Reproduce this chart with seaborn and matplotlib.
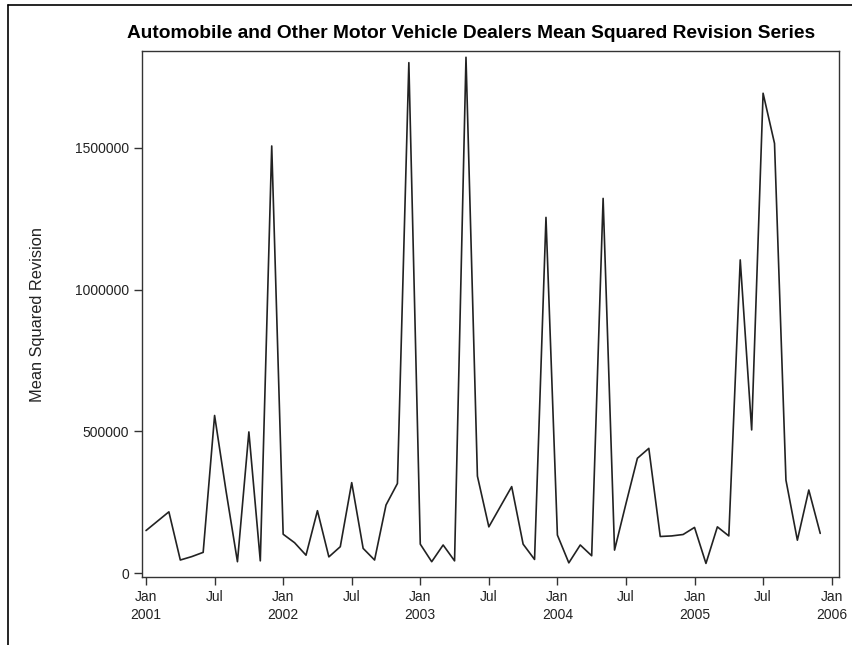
import matplotlib
matplotlib.use("Agg")
import matplotlib.pyplot as plt
from matplotlib.lines import Line2D
import seaborn as sns
import pandas as pd
import numpy as np

# Monthly series, Jan 2001 .. Dec 2005
month_index = list(range(60))
msr_values = [
    150000, 183000, 216000, 46000, 58000, 73000, 556000, 290000, 40000, 498000, 43000, 1507000,
    137000, 107000, 63000, 220000, 57000, 93000, 319000, 87000, 46000, 240000, 316000, 1801000,
    102000, 40000, 99000, 43000, 1820000, 342000, 163000, 234000, 305000, 102000, 48000, 1255000,
    134000, 36000, 99000, 61000, 1322000, 81000, 245000, 405000, 440000, 129000, 131000, 136000,
    161000, 34000, 163000, 131000, 1105000, 505000, 1693000, 1516000, 328000, 116000, 293000, 140000,
]
x_tick_pos = list(range(0, 61, 6))
x_tick_labels = ["Jan\n2001", "Jul", "Jan\n2002", "Jul", "Jan\n2003", "Jul",
                 "Jan\n2004", "Jul", "Jan\n2005", "Jul", "Jan\n2006"]
y_ticks = [0, 500000, 1000000, 1500000]
y_tick_labels = ["0", "500000", "1000000", "1500000"]

sns.set_theme(style="white")
plt.rcParams["font.family"] = ["Liberation Sans", "DejaVu Sans"]

df = pd.DataFrame({"month": month_index, "msr": msr_values})

fig = plt.figure(figsize=(8.52, 6.45), dpi=100)
ax = fig.add_axes([0.1663, 0.1054, 0.8184, 0.8155])
sns.lineplot(data=df, x="month", y="msr", ax=ax, color="#222222", linewidth=1.2)

ax.set_xlim(-0.38, 60.64)
ax.set_ylim(-14000, 1842000)
ax.set_xticks(x_tick_pos)
ax.set_xticklabels(x_tick_labels, fontsize=10, color="#222222", linespacing=1.45)
ax.set_yticks(y_ticks)
ax.set_yticklabels(y_tick_labels, fontsize=10, color="#222222")
ax.tick_params(axis="both", direction="out", length=6, width=1, color="#333333",
               bottom=True, left=True, pad=3)
ax.set_xlabel("")
ax.set_ylabel("Mean Squared Revision", fontsize=11.8, color="#222222", labelpad=22)
for s in ax.spines.values():
    s.set_visible(True)
    s.set_color("#333333")
    s.set_linewidth(1.0)

fig.text(471 / 852, 1 - 33 / 645,
         "Automobile and Other Motor Vehicle Dealers Mean Squared Revision Series",
         ha="center", va="center", fontsize=13.8, fontweight="bold", color="black")

# outer frame lines (left and top)
fig.add_artist(Line2D([8 / 852, 8 / 852], [0, 1 - 5 / 645], color="black", linewidth=1.2))
fig.add_artist(Line2D([8 / 852, 1], [1 - 5 / 645, 1 - 5 / 645], color="black", linewidth=1.2))

fig.savefig("out.png", dpi=100, facecolor="white")
